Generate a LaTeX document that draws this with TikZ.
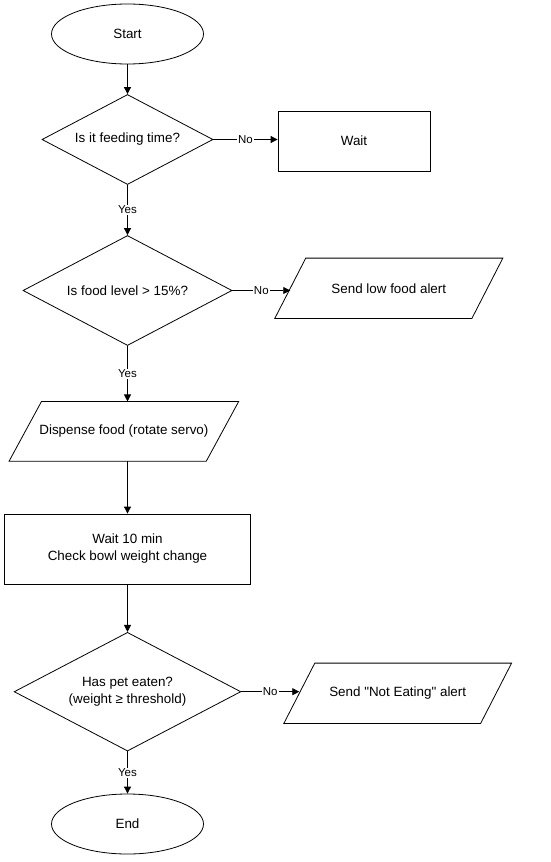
\documentclass[tikz,border=0pt]{standalone}
\usepackage{fontspec}
\setmainfont{Liberation Sans}
\usetikzlibrary{shapes.geometric,arrows.meta,calc}
\newcommand\ioshape[2]{%
  \draw[line width=0.8pt] ($(#1.south west)+(-#2,0)$) -- ($(#1.north west)+(#2,0)$) -- ($(#1.north east)+(#2,0)$) -- ($(#1.south east)+(-#2,0)$) -- cycle;}
\begin{document}
\begin{tikzpicture}[x=1pt,y=-1pt,
  base/.style={font=\fontsize{13.4}{17}\selectfont, text=black, align=center},
  term/.style={base, ellipse, draw, line width=0.8pt, minimum width=152pt, minimum height=60pt, inner sep=0pt},
  decision/.style={base, diamond, draw, line width=0.8pt, inner sep=0pt, aspect=1.9},
  proc/.style={base, rectangle, draw, line width=0.8pt},
  io/.style={base, rectangle, inner sep=0pt},
  lbl/.style={font=\fontsize{11.5}{13}\selectfont, fill=white, inner sep=1pt, text=black},
  arr/.style={-{Triangle[length=7pt,width=7pt]}, line width=0.8pt}]
\fill[white] (0,0) rectangle (551,862);
\useasboundingbox (0,0) rectangle (551,862);

\node[term] (start) at (127.5,34) {Start};
\node[decision, minimum width=171pt, minimum height=90pt] (d1) at (127.5,139.5) {Is it feeding time?};
\node[proc, minimum width=152pt, minimum height=60pt] (wait) at (354,141) {Wait};
\node[decision, minimum width=209pt, minimum height=110pt] (d2) at (127.5,290.5) {Is food level > 15\%?};
\node[io, minimum width=196.7pt, minimum height=60pt] (low) at (388.8,288.3) {Send low food alert};
\node[io, minimum width=196.8pt, minimum height=59.3pt] (disp) at (123.9,431.3) {Dispense food (rotate servo)};
\node[proc, minimum width=246.7pt, minimum height=70pt] (chk) at (127.5,549) {Wait 10 min\\Check bowl weight change};
\node[decision, minimum width=226.7pt, minimum height=118.7pt] (d3) at (127.5,691.7) {Has pet eaten?\\(weight ≥ threshold)};
\node[io, minimum width=196.4pt, minimum height=60pt] (ne) at (397.7,693.3) {Send \textquotedbl Not Eating\textquotedbl\ alert};
\node[term] (end) at (127.5,824) {End};

\ioshape{low}{15.5pt}
\ioshape{disp}{16.2pt}
\ioshape{ne}{15.5pt}

\draw[arr] (start) -- (d1);
\draw[arr] (d1.east) -- node[lbl]{No} (d1.east -| wait.west);
\draw[arr] (d1) -- node[lbl]{Yes} (d2);
\draw[arr] (d2.east) -- node[lbl]{No} (d2.east -| low.west);
\draw[arr] (d2) -- node[lbl]{Yes} (d2.south |- disp.north);
\draw[arr] (disp.south -| chk.north) -- (chk);
\draw[arr] (chk) -- (d3);
\draw[arr] (d3.east) -- node[lbl]{No} (d3.east -| ne.west);
\draw[arr] (d3) -- node[lbl]{Yes} (end);
\end{tikzpicture}
\end{document}
